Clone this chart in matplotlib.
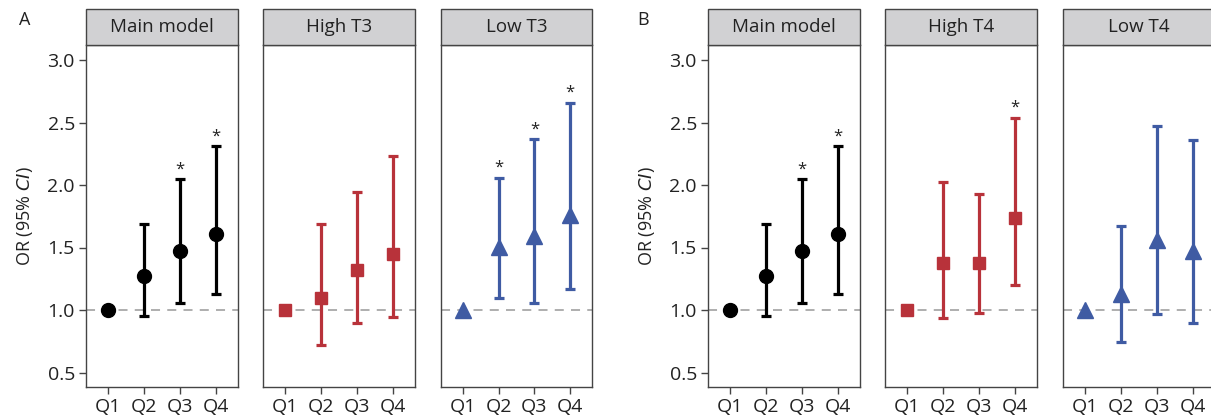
import numpy as np
import matplotlib
matplotlib.use("Agg")
from matplotlib import pyplot as plt
import matplotlib.patches as patches

quartiles = ["Q1", "Q2", "Q3", "Q4"]

# panel A: T3
main_or = [1.0, 1.27, 1.47, 1.61]
main_lo = [1.0, 0.955, 1.06, 1.13]
main_hi = [1.0, 1.69, 2.045, 2.31]
main_sig = [False, False, True, True]

high_t3_or = [1.0, 1.10, 1.32, 1.445]
high_t3_lo = [1.0, 0.717, 0.896, 0.944]
high_t3_hi = [1.0, 1.685, 1.947, 2.23]
high_t3_sig = [False, False, False, False]

low_t3_or = [1.0, 1.505, 1.59, 1.76]
low_t3_lo = [1.0, 1.10, 1.06, 1.165]
low_t3_hi = [1.0, 2.06, 2.365, 2.66]
low_t3_sig = [False, True, True, True]

# panel B: T4
high_t4_or = [1.0, 1.38, 1.373, 1.74]
high_t4_lo = [1.0, 0.94, 0.973, 1.20]
high_t4_hi = [1.0, 2.027, 1.93, 2.54]
high_t4_sig = [False, False, False, True]

low_t4_or = [1.0, 1.13, 1.56, 1.47]
low_t4_lo = [1.0, 0.746, 0.966, 0.90]
low_t4_hi = [1.0, 1.675, 2.47, 2.36]
low_t4_sig = [False, False, False, False]

BLACK = "#000000"
RED = "#b8323a"
BLUE = "#3f5ba3"

FONT = ["Open Sans", "DejaVu Sans"]
plt.rcParams['font.family'] = FONT

W, H = 1211, 420
fig = plt.figure(figsize=(W / 100, H / 100), dpi=100)

# (left px, right px) of each panel's plotting area
panels = [
    (86, 238, "Main model", main_or, main_lo, main_hi, main_sig, BLACK, "o", True),
    (263, 415, "High T3", high_t3_or, high_t3_lo, high_t3_hi, high_t3_sig, RED, "s", False),
    (441, 592, "Low T3", low_t3_or, low_t3_lo, low_t3_hi, low_t3_sig, BLUE, "^", False),
    (708, 860, "Main model", main_or, main_lo, main_hi, main_sig, BLACK, "o", True),
    (885, 1037, "High T4", high_t4_or, high_t4_lo, high_t4_hi, high_t4_sig, RED, "s", False),
    (1063, 1215, "Low T4", low_t4_or, low_t4_lo, low_t4_hi, low_t4_sig, BLUE, "^", False),
]

top_px, bot_px, strip_top = 45, 387, 9
x = np.arange(1, 5)

for left, right, title, orv, lo, hi, sig, col, mk, first in panels:
    ax = fig.add_axes([left / W, 1 - bot_px / H, (right - left) / W, (bot_px - top_px) / H])
    ax.axhline(1.0, color="#a8a8a8", lw=1.3, ls=(0, (5, 4)), zorder=1)
    orv = np.array(orv); lo = np.array(lo); hi = np.array(hi)
    ms = {"o": 10, "s": 9, "^": 11}[mk]
    # Q1 is the reference group, no interval
    ax.errorbar(x[1:], orv[1:], yerr=[orv[1:] - lo[1:], hi[1:] - orv[1:]],
                fmt="none", ecolor=col, elinewidth=2.3, capsize=3.5, capthick=2.3, zorder=2)
    ax.plot(x, orv, ls="none", marker=mk, color=col, ms=ms, zorder=3)
    for xi, h, s in zip(x, hi, sig):
        if s:
            ax.text(xi, h + 0.075, "*", ha="center", va="center", fontsize=12, color="#222222")
    ax.set_xlim(0.39, 4.61)
    ax.set_ylim(0.384, 3.12)
    ax.set_xticks(x)
    ax.set_xticklabels(quartiles, fontsize=14, color="#222222")
    ax.set_yticks([0.5, 1.0, 1.5, 2.0, 2.5, 3.0])
    ax.tick_params(axis="both", length=5, width=1, color="#444444", pad=3)
    if first:
        ax.set_yticklabels(["0.5", "1.0", "1.5", "2.0", "2.5", "3.0"], fontsize=14, color="#222222")
        ax.set_ylabel("OR (95% $\\it{CI}$)", fontsize=13, color="#222222", labelpad=9)
    else:
        ax.tick_params(axis="y", left=False, labelleft=False)
    for sp in ax.spines.values():
        sp.set_color("#444444")
        sp.set_linewidth(1)
    # facet strip
    strip = patches.Rectangle((left / W, 1 - top_px / H), (right - left) / W, (top_px - strip_top) / H,
                              transform=fig.transFigure, facecolor="#d1d1d3", edgecolor="#444444",
                              lw=1, zorder=5)
    fig.add_artist(strip)
    fig.text((left + right) / 2 / W, 1 - (top_px + strip_top) / 2 / H, title,
             ha="center", va="center", fontsize=13.5, color="#222222", zorder=6)

fig.text(25 / W, 1 - 20 / H, "A", ha="center", va="center", fontsize=13, color="#222222")
fig.text(643 / W, 1 - 20 / H, "B", ha="center", va="center", fontsize=13, color="#222222")

fig.savefig("out.png", dpi=100)
